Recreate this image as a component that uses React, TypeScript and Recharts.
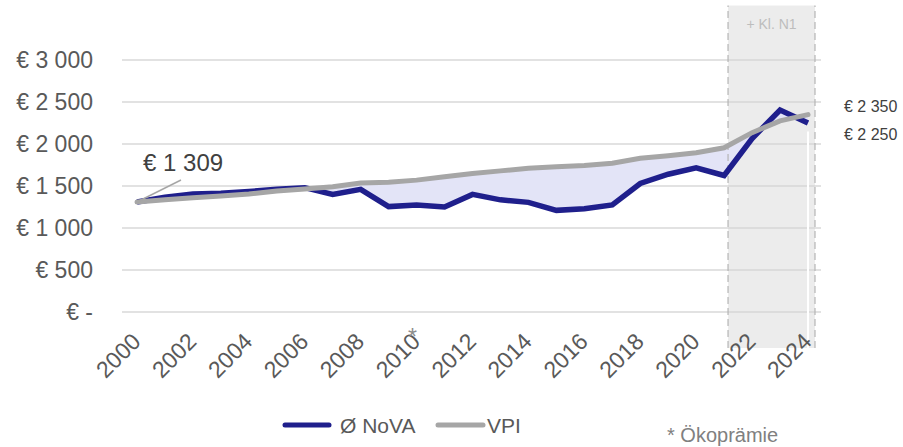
import { ComposedChart, Line, Area, XAxis, YAxis, CartesianGrid, ReferenceArea, ReferenceLine } from 'recharts';

const years = [2000, 2001, 2002, 2003, 2004, 2005, 2006, 2007, 2008, 2009, 2010, 2011, 2012, 2013, 2014, 2015, 2016, 2017, 2018, 2019, 2020, 2021, 2022, 2023, 2024];
const nova = [1309, 1365, 1405, 1415, 1435, 1460, 1480, 1400, 1460, 1255, 1275, 1250, 1400, 1335, 1305, 1210, 1230, 1275, 1530, 1640, 1715, 1625, 2065, 2405, 2250];
const vpi = [1309, 1335, 1360, 1380, 1405, 1440, 1465, 1490, 1535, 1545, 1570, 1610, 1650, 1680, 1710, 1730, 1745, 1770, 1830, 1860, 1895, 1955, 2135, 2275, 2350];
const yTicks = [0, 500, 1000, 1500, 2000, 2500, 3000];
const xTicks = [2000, 2002, 2004, 2006, 2008, 2010, 2012, 2014, 2016, 2018, 2020, 2022, 2024];

const data = years.map((year, i) => ({ year, nova: nova[i], vpi: vpi[i], gap: [nova[i], vpi[i]] }));

const FONT = '"Liberation Sans", Arial, sans-serif';
const NAVY = '#1f1f8c';
const GREY = '#a6a6a6';

const euro = (v: number) => {
  if (v === 0) return '€ -';
  const s = String(Math.round(v));
  return '€ ' + s.replace(/\B(?=(\d{3})+(?!\d))/g, ' ');
};

const XTick = (props: any) => {
  const { x, y, payload } = props;
  const tx = x + 5;
  const ty = y + 31;
  return (
    <g>
      <text x={tx} y={ty} textAnchor="end" fontSize={23} fill="#595959" fontFamily={FONT} transform={`rotate(-45, ${tx}, ${ty})`}>
        {payload.value}
      </text>
      {payload.value === 2010 && (
        <text x={x - 4} y={y + 33} textAnchor="middle" fontSize={23} fill="#8c8c8c" fontFamily={FONT}>*</text>
      )}
    </g>
  );
};

const firstLabel = (props: any) => {
  const { x, y, index } = props;
  if (index === 0) {
    return (
      <g>
        <line x1={x} y1={y} x2={x + 44} y2={y - 22} stroke={GREY} strokeWidth={1.5} />
        <text x={x + 6} y={y - 31} fontSize={24} fill="#404040" fontFamily={FONT}>{euro(vpi[0])}</text>
      </g>
    );
  }
  if (index === years.length - 1) {
    return <text x={x + 36} y={y - 3} fontSize={16} fill="#404040" fontFamily={FONT}>{euro(vpi[index])}</text>;
  }
  return null;
};

const lastNovaLabel = (props: any) => {
  const { x, y, index } = props;
  if (index === years.length - 1) {
    return <text x={x + 36} y={y + 17} fontSize={16} fill="#404040" fontFamily={FONT}>{euro(nova[index])}</text>;
  }
  return null;
};

export default function App() {
  return (
    <div style={{ position: 'absolute', left: 0, top: 0, width: 903, height: 447, background: '#fff', fontFamily: FONT }}>
      <ComposedChart width={903} height={447} data={data} margin={{ top: 60, right: 82, bottom: 75, left: 0 }}>
        <CartesianGrid vertical={false} stroke="#d9d9d9" strokeWidth={1.5} />
        <ReferenceArea
          x1={2021.14}
          x2={2024.25}
          y1={-430}
          y2={3650}
          ifOverflow="visible"
          fill="#d4d4d4"
          fillOpacity={0.45}
          stroke="none"
          label={{ value: '+ Kl. N1', position: 'insideTop', offset: 14, fill: '#bdbdbd', fontSize: 14, fontFamily: FONT }}
        />
        <ReferenceLine segment={[{ x: 2021.14, y: -430 }, { x: 2021.14, y: 3650 }]} ifOverflow="visible" stroke="#b5b5b5" strokeDasharray="7 4" strokeWidth={1.2} />
        <ReferenceLine segment={[{ x: 2024.25, y: -430 }, { x: 2024.25, y: 3650 }]} ifOverflow="visible" stroke="#b5b5b5" strokeDasharray="7 4" strokeWidth={1.2} />
        <ReferenceLine segment={[{ x: 2024, y: -430 }, { x: 2024, y: 2150 }]} ifOverflow="visible" stroke="#ffffff" strokeWidth={2} />
        <XAxis
          dataKey="year"
          type="number"
          domain={[2000, 2024]}
          ticks={xTicks}
          interval={0}
          padding={{ left: 15, right: 13 }}
          height={60}
          axisLine={false}
          tickLine={false}
          tickSize={0}
          tickMargin={0}
          tick={<XTick />}
        />
        <YAxis
          domain={[0, 3000]}
          ticks={yTicks}
          width={122}
          axisLine={false}
          tickLine={false}
          tickSize={0}
          tickMargin={29}
          tickFormatter={euro}
          tick={{ fill: '#595959', fontSize: 23, fontFamily: FONT }}
        />
        <Area dataKey="gap" type="linear" fill="#e3e4f7" fillOpacity={1} stroke="none" isAnimationActive={false} />
        <Line dataKey="nova" type="linear" stroke={NAVY} strokeWidth={5.5} dot={false} isAnimationActive={false} label={lastNovaLabel} />
        <Line dataKey="vpi" type="linear" stroke={GREY} strokeWidth={5} strokeLinecap="round" dot={false} isAnimationActive={false} label={firstLabel} />
      </ComposedChart>
      <svg width={903} height={447} style={{ position: 'absolute', left: 0, top: 0, pointerEvents: 'none' }}>
        <line x1={285} y1={425} x2={329} y2={425} stroke={NAVY} strokeWidth={5} strokeLinecap="round" />
        <text x={340} y={433} fontSize={21} fill="#595959" fontFamily={FONT}>Ø NoVA</text>
        <line x1={438} y1={425} x2={483} y2={425} stroke={GREY} strokeWidth={5} strokeLinecap="round" />
        <text x={487} y={433} fontSize={21} fill="#595959" fontFamily={FONT}>VPI</text>
        <text x={667} y={442} fontSize={20} fill="#808080" fontFamily={FONT}>* Ökoprämie</text>
      </svg>
    </div>
  );
}
